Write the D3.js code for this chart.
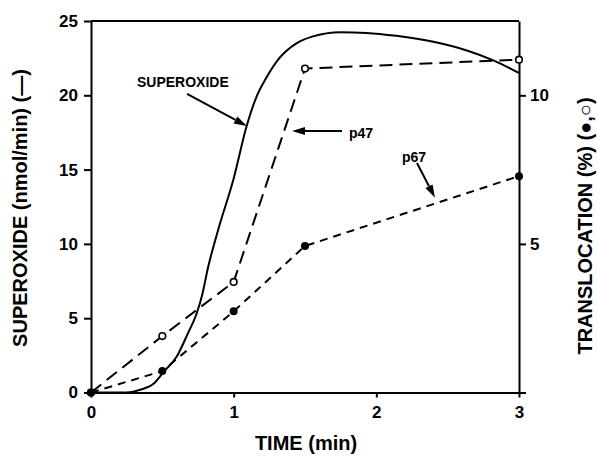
<!DOCTYPE html>
<html>
<head>
<meta charset="utf-8">
<script src="https://cdn.jsdelivr.net/npm/d3@7"></script>
<style>
  body { margin: 0; background: #fff; }
  svg { display: block; font-family: "Liberation Sans", Arial, Helvetica, sans-serif; font-weight: bold; }
</style>
</head>
<body>
<svg id="chart"></svg>
<script>
// time in min, superoxide in nmol/min (left axis), translocation in % (right axis)
const superoxide = [
  [0, 0], [0.25, 0], [0.35, 0.2], [0.44, 0.6], [0.51, 1.4], [0.6, 2.4], [0.68, 4.0],
  [0.74, 5.3], [0.78, 6.6], [0.82, 8.4], [0.89, 10.9], [1.0, 14.4], [1.09, 17.9],
  [1.16, 19.9], [1.23, 21.2], [1.32, 22.5], [1.44, 23.5], [1.55, 23.95], [1.75, 24.25],
  [1.93, 24.2], [2.14, 24.0], [2.4, 23.6], [2.64, 23.0], [2.82, 22.35], [2.92, 21.9], [3.0, 21.5]
]
const times = [0, 0.5, 1, 1.5, 3]
const p47 = [0, 1.9, 3.72, 10.9, 11.2]
const p67 = [0, 0.72, 2.73, 4.93, 7.28]

const xTicks = [0, 1, 2, 3]
const leftTicks = [0, 5, 10, 15, 20, 25]
const rightTicks = [0, 5, 10]

// annotations: label position + arrow [from, to], in data units (time, superoxide)
const notes = [
  {text: "SUPEROXIDE", at: [0.322, 20.55], from: [0.673, 20.09], to: [1.093, 17.93]},
  {text: "p47", at: [1.808, 17.13], from: [1.759, 17.6], to: [1.409, 17.6]},
  {text: "p67", at: [2.18, 15.5], from: [2.285, 15.44], to: [2.411, 13.1]}
]

const width = 597, height = 456
const margin = {top: 21, right: 78, bottom: 63.5, left: 91}

const svg = d3.select("#chart")
    .attr("width", width)
    .attr("height", height)
    .attr("viewBox", [0, 0, width, height])

const x = d3.scaleLinear([0, 3], [margin.left, width - margin.right])
const yL = d3.scaleLinear([0, 25], [height - margin.bottom, margin.top])
const yR = d3.scaleLinear([0, 12.5], [height - margin.bottom, margin.top])

function styleAxis(g, fs) {
  g.select(".domain").attr("stroke-width", 2)
  g.selectAll(".tick line").attr("stroke-width", 2)
  g.selectAll(".tick text").attr("font-size", fs).attr("fill", "#000")
    .attr("font-family", "'Liberation Sans', Arial, sans-serif").attr("font-weight", "bold")
}

// frame top
svg.append("line")
    .attr("x1", x(0)).attr("x2", x(3))
    .attr("y1", yL(25)).attr("y2", yL(25))
    .attr("stroke", "#000").attr("stroke-width", 2)

svg.append("g")
    .attr("transform", `translate(0,${yL(0)})`)
    .call(d3.axisBottom(x).tickValues(xTicks).tickFormat(d3.format("d"))
      .tickSize(5).tickSizeOuter(0).tickPadding(8))
    .call(g => styleAxis(g, 17))

svg.append("g")
    .attr("transform", `translate(${x(0)},0)`)
    .call(d3.axisLeft(yL).tickValues(leftTicks).tickSize(7).tickSizeOuter(0).tickPadding(6))
    .call(g => styleAxis(g, 17))

svg.append("g")
    .attr("transform", `translate(${x(3)},0)`)
    .call(d3.axisRight(yR).tickValues(rightTicks).tickFormat(d => d === 0 ? "" : d)
      .tickSize(7).tickSizeOuter(0).tickPadding(4))
    .call(g => styleAxis(g, 17))

// axis titles
svg.append("text")
    .attr("transform", `translate(${x(1.5) + 1},450)`)
    .attr("text-anchor", "middle")
    .attr("font-size", 20)
    .text("TIME (min)")

svg.append("text")
    .attr("transform", `translate(27,208) rotate(-90)`)
    .attr("text-anchor", "middle")
    .attr("font-size", 20)
    .text("SUPEROXIDE (nmol/min) (\u2014)")

svg.append("text")
    .attr("transform", `translate(592,226) rotate(-90)`)
    .attr("text-anchor", "middle")
    .attr("font-size", 20)
    .text("TRANSLOCATION (%) (\u25CF,\u25CB)")

// superoxide curve
svg.append("path")
    .datum(superoxide)
    .attr("fill", "none")
    .attr("stroke", "#000")
    .attr("stroke-width", 2)
    .attr("d", d3.line().x(d => x(d[0])).y(d => yL(d[1])).curve(d3.curveMonotoneX))

const line = d3.line().x((d, i) => x(times[i])).y(d => yR(d))

svg.append("path")
    .datum(p47)
    .attr("fill", "none")
    .attr("stroke", "#000")
    .attr("stroke-width", 2)
    .attr("stroke-dasharray", "13,7")
    .attr("d", line)

svg.append("path")
    .datum(p67)
    .attr("fill", "none")
    .attr("stroke", "#000")
    .attr("stroke-width", 2)
    .attr("stroke-dasharray", "8,6")
    .attr("d", line)

svg.append("g")
  .selectAll("circle")
  .data(p47)
  .join("circle")
    .attr("cx", (d, i) => x(times[i]))
    .attr("cy", d => yR(d))
    .attr("r", 3.3)
    .attr("fill", "#fff")
    .attr("stroke", "#000")
    .attr("stroke-width", 1.6)

svg.append("g")
  .selectAll("circle")
  .data(p67)
  .join("circle")
    .attr("cx", (d, i) => x(times[i]))
    .attr("cy", d => yR(d))
    .attr("r", 4)
    .attr("fill", "#000")

// annotations with arrows
const ann = svg.append("g")
ann.selectAll("text")
  .data(notes)
  .join("text")
    .attr("x", d => x(d.at[0]))
    .attr("y", d => yL(d.at[1]))
    .attr("font-size", 14)
    .text(d => d.text)

notes.forEach(d => {
  const x1 = x(d.from[0]), y1 = yL(d.from[1])
  const x2 = x(d.to[0]), y2 = yL(d.to[1])
  const a = Math.atan2(y2 - y1, x2 - x1)
  const len = 13, w = 4
  const bx = x2 - len * Math.cos(a), by = y2 - len * Math.sin(a)
  ann.append("line")
      .attr("x1", x1).attr("y1", y1).attr("x2", bx).attr("y2", by)
      .attr("stroke", "#000").attr("stroke-width", 2)
  ann.append("path")
      .attr("d", `M${x2},${y2}L${bx + w * Math.sin(a)},${by - w * Math.cos(a)}L${bx - w * Math.sin(a)},${by + w * Math.cos(a)}Z`)
      .attr("fill", "#000")
})
</script>
</body>
</html>
